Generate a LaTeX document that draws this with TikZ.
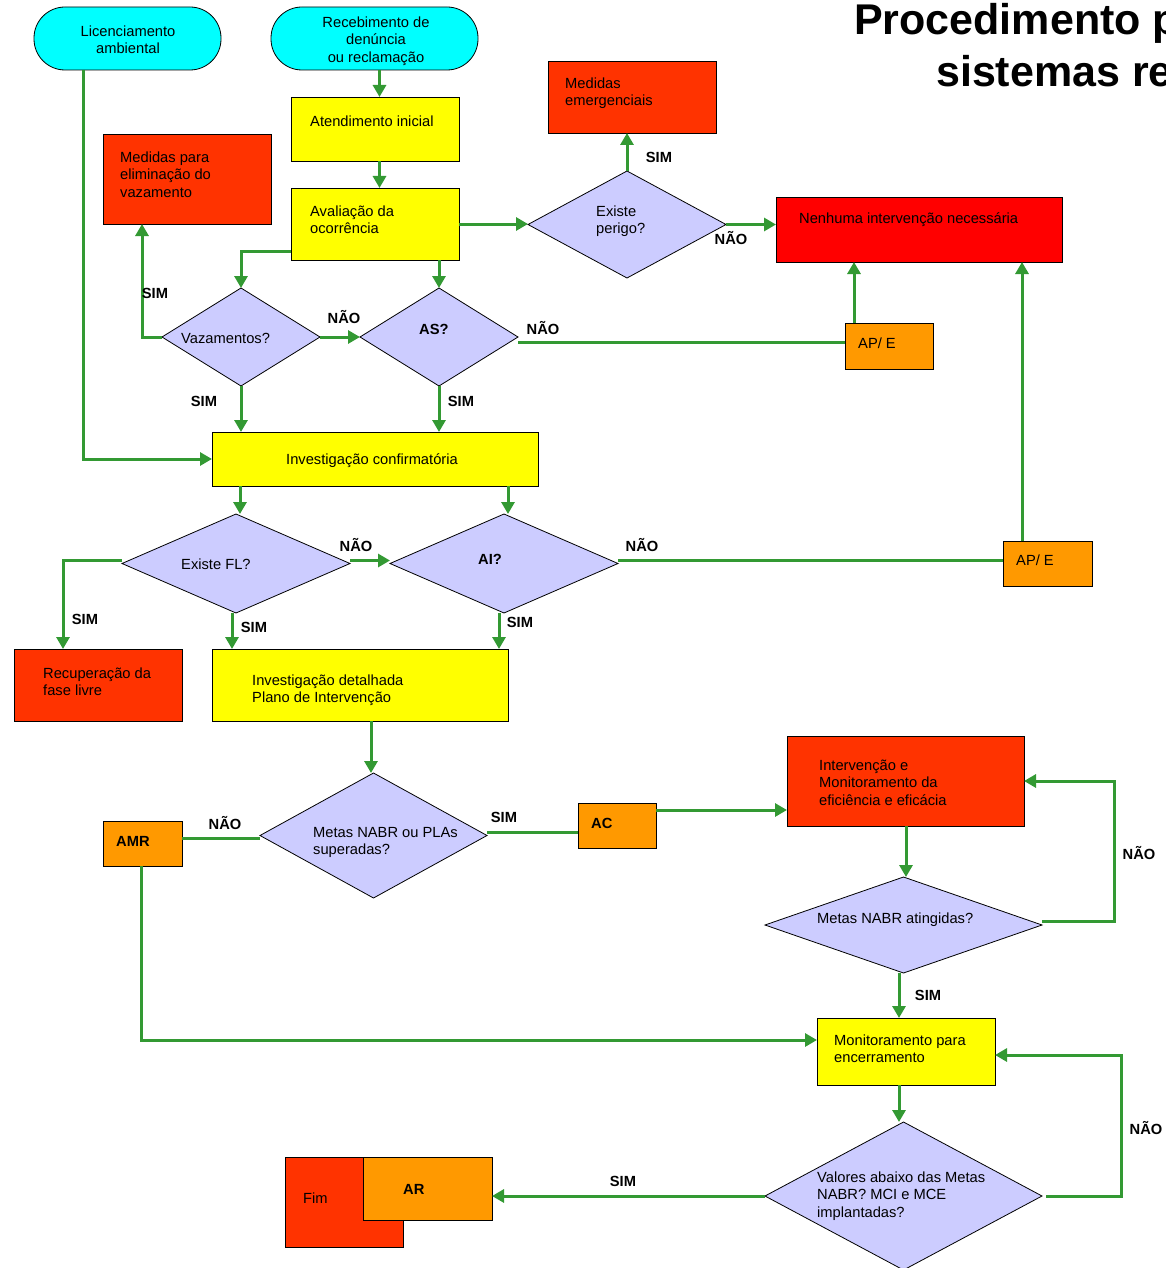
\documentclass[tikz,border=0pt]{standalone}
\usepackage{fontspec}
\setmainfont{Liberation Sans}
\usetikzlibrary{shapes.geometric,arrows.meta}
\definecolor{cyanfill}{HTML}{00FFFF}
\definecolor{yelfill}{HTML}{FFFF00}
\definecolor{redor}{HTML}{FF3300}
\definecolor{redfill}{HTML}{FF0000}
\definecolor{orfill}{HTML}{FF9900}
\definecolor{lavfill}{HTML}{CCCCFF}
\definecolor{grn}{HTML}{339933}
\newcommand\fstrut{\rule{0pt}{12pt}}
\begin{document}
\begin{tikzpicture}[x=1pt,y=-1pt,
  shp/.style={draw=black,line width=0.8pt,inner sep=0pt,outer sep=0pt},
  term/.style={shp,rectangle,rounded corners=31pt,fill=cyanfill},
  ybox/.style={shp,rectangle,fill=yelfill},
  rbox/.style={shp,rectangle,fill=redor},
  redbox/.style={shp,rectangle,fill=redfill},
  obox/.style={shp,rectangle,fill=orfill},
  dec/.style={shp,diamond,fill=lavfill},
  txt/.style={inner sep=0pt,anchor=north west,align=left,font=\fontsize{14.7}{17.5}\selectfont},
  ctxt/.style={txt,anchor=north,align=center},
  btxt/.style={txt,font=\fontsize{14.7}{17.5}\selectfont\bfseries},
  lab/.style={inner sep=0pt,anchor=center,font=\fontsize{14.7}{17.5}\selectfont\bfseries},
  ttl/.style={inner sep=0pt,anchor=base west,font=\fontsize{43}{47}\selectfont\bfseries},
  ln/.style={draw=grn,line width=3pt},
  arr/.style={ln,-{Triangle[width=13pt,length=12pt]}}
]
\useasboundingbox (0,0) rectangle (1165,1268);
\clip (0,0) rectangle (1165,1268);

% title
\node[ttl] (title1) at (854,35) {Procedimento p};
\node[ttl] (title2) at (936,87) {sistemas re};

% shapes
\node[term,minimum width=187,minimum height=63] (lic) at (127.5,38.5) {};
\node[term,minimum width=207,minimum height=63] (rec) at (374.5,38.5) {};
\node[ybox,minimum width=168,minimum height=64] (aten) at (375,129) {};
\node[ybox,minimum width=168,minimum height=72] (aval) at (375,224) {};
\node[rbox,minimum width=168,minimum height=90] (medel) at (187,179) {};
\node[rbox,minimum width=168,minimum height=72] (medem) at (632,97) {};
\node[redbox,minimum width=286,minimum height=65] (nenh) at (919,229.5) {};
\node[obox,minimum width=88,minimum height=46] (ape1) at (889,346) {};
\node[obox,minimum width=89,minimum height=45] (ape2) at (1047.5,563.5) {};
\node[ybox,minimum width=326,minimum height=54] (invc) at (375,459) {};
\node[rbox,minimum width=168,minimum height=72] (recup) at (98,685) {};
\node[ybox,minimum width=296,minimum height=72] (invd) at (360,685) {};
\node[obox,minimum width=79,minimum height=45] (amr) at (142.5,843.5) {};
\node[obox,minimum width=78,minimum height=45] (ac) at (617,825.5) {};
\node[rbox,minimum width=237,minimum height=90] (interv) at (905.5,781) {};
\node[ybox,minimum width=178,minimum height=67] (mon) at (906,1051.5) {};
\node[rbox,minimum width=118,minimum height=90] (fim) at (344,1202) {};
\node[obox,minimum width=129,minimum height=63] (ar) at (427.5,1188.5) {};

\node[dec,minimum width=198,minimum height=107] (perigo) at (627,224.5) {};
\node[dec,minimum width=158,minimum height=98] (vaz) at (241,337) {};
\node[dec,minimum width=158,minimum height=98] (as) at (439,337) {};
\node[dec,minimum width=228,minimum height=99] (fl) at (236,563.5) {};
\node[dec,minimum width=228,minimum height=99] (ai) at (504,563.5) {};
\node[dec,minimum width=227,minimum height=125] (msup) at (373.5,835.5) {};
\node[dec,minimum width=277,minimum height=96] (mat) at (903.5,925) {};
\node[dec,minimum width=277,minimum height=148] (val) at (903.5,1196) {};

% connectors
\draw[arr] ([xshift=-44.5pt]lic.south) |- (invc.west);
\draw[arr] ([xshift=4.5pt]aten.north |- rec.south) -- ([xshift=4.5pt]aten.north);
\draw[arr] ([xshift=4.5pt]aten.south) -- ([xshift=4.5pt]aval.north);
\draw[arr] (aval.east) -- (aval.east -| perigo.west);
\draw[arr] (perigo.north) -- (perigo.north |- medem.south);
\draw[arr] (perigo.east) -- (perigo.east -| nenh.west);
\draw[arr] ([yshift=-27pt]aval.west) -| (vaz.north);
\draw[arr] (as.north |- aval.south) -- (as.north);
\draw[arr] (vaz.west) -| ([xshift=-45pt]medel.south);
\draw[arr] (vaz.east) -- (as.west);
\draw[arr] (vaz.south) -- (vaz.south |- invc.north);
\draw[arr] (as.south) -- (as.south |- invc.north);
\draw[ln] ([yshift=-5pt]as.east) -- ([yshift=-5pt]as.east -| ape1.west);
\draw[arr] ([xshift=-35pt]ape1.north) -- ([xshift=-35pt]ape1.north |- nenh.south);
\draw[arr] ([xshift=-25.5pt]ape2.north) -- ([xshift=-25.5pt]ape2.north |- nenh.south);
\draw[arr] ([xshift=4pt]fl.north |- invc.south) -- ([xshift=4pt]fl.north);
\draw[arr] ([xshift=4pt]ai.north |- invc.south) -- ([xshift=4pt]ai.north);
\draw[arr] ([yshift=3pt]fl.west) -| ([xshift=-35pt]recup.north);
\draw[arr] ([yshift=3pt]fl.east) -- ([yshift=3pt]ai.west);
\draw[arr] ([xshift=-4pt]fl.south) -- ([xshift=-4pt]fl.south |- invd.north);
\draw[arr] ([xshift=-5pt]ai.south) -- ([xshift=-5pt]ai.south |- invd.north);
\draw[ln] ([yshift=3pt]ai.east) -- ([yshift=3pt]ai.east -| ape2.west);
\draw[arr] ([xshift=-2.5pt]msup.north |- invd.south) -- ([xshift=-2.5pt]msup.north);
\draw[ln] ([yshift=-3pt]msup.west) -- ([yshift=-3pt]msup.west -| amr.east);
\draw[ln] ([yshift=3pt]msup.east) -- ([yshift=3pt]msup.east -| ac.west);
\draw[arr] ([yshift=15.5pt]ac.east) -- ([yshift=15.5pt]ac.east -| interv.west);
\draw[arr] ([xshift=2.5pt]mat.north |- interv.south) -- ([xshift=2.5pt]mat.north);
\draw[arr] ([yshift=4pt]mat.east) -- ++(72,0) |- (interv.east);
\draw[arr] ([xshift=-4.5pt]mat.south) -- ([xshift=-4.5pt]mat.south |- mon.north);
\draw[arr] ([xshift=-1.5pt]amr.south) |- ([yshift=11.5pt]mon.west);
\draw[arr] ([xshift=-7pt]mon.south) -- ([xshift=-7pt]mon.south |- val.north);
\draw[arr] ([xshift=4pt]val.east) -- ++(75,0) |- ([yshift=-3.5pt]mon.east);
\draw[arr] (val.west) -- (val.west -| ar.east);

% texts
\node[ctxt] (t-lic) at (128,24) {\fstrut Licenciamento\\ambiental};
\node[ctxt] (t-rec) at (376,15) {\fstrut Recebimento de\\denúncia\\ou reclamação};
\node[txt] (t-aten) at (310,114) {\fstrut Atendimento inicial};
\node[txt] (t-aval) at (310,204) {\fstrut Avaliação da\\ocorrência};
\node[txt] (t-medel) at (120,150) {\fstrut Medidas para\\eliminação do\\vazamento};
\node[txt] (t-medem) at (565,76) {\fstrut Medidas\\emergenciais};
\node[txt] (t-perigo) at (596,204) {\fstrut Existe\\perigo?};
\node[txt] (t-nenh) at (799,211) {\fstrut Nenhuma intervenção necessária};
\node[txt] (t-vaz) at (181,331) {\fstrut Vazamentos?};
\node[btxt] (t-as) at (419,322) {\fstrut AS?};
\node[txt] (t-ape1) at (858,336) {\fstrut AP/ E};
\node[ctxt] (t-invc) at (372,452) {\fstrut Investigação confirmatória};
\node[txt] (t-fl) at (181,557) {\fstrut Existe FL?};
\node[btxt] (t-ai) at (478,552) {\fstrut AI?};
\node[txt] (t-ape2) at (1016,553) {\fstrut AP/ E};
\node[txt] (t-recup) at (43,666) {\fstrut Recuperação da\\fase livre};
\node[txt] (t-invd) at (252,673) {\fstrut Investigação detalhada\\Plano de Intervenção};
\node[btxt] (t-amr) at (116,834) {\fstrut AMR};
\node[txt] (t-msup) at (313,825) {\fstrut Metas NABR ou PLAs\\superadas?};
\node[btxt] (t-ac) at (591,816) {\fstrut AC};
\node[txt] (t-interv) at (819,758) {\fstrut Intervenção e\\Monitoramento da\\eficiência e eficácia};
\node[txt] (t-mat) at (817,911) {\fstrut Metas NABR atingidas?};
\node[txt] (t-mon) at (834,1033) {\fstrut Monitoramento para\\encerramento};
\node[txt] (t-val) at (817,1170) {\fstrut Valores abaixo das Metas\\NABR? MCI e MCE\\implantadas?};
\node[txt] (t-fim) at (303,1191) {\fstrut Fim};
\node[btxt] (t-ar) at (403,1182) {\fstrut AR};

% branch labels
\node[lab] (l1) at (659,157) {SIM};
\node[lab] (l2) at (731,238) {NÃO};
\node[lab] (l3) at (155,293) {SIM};
\node[lab] (l4) at (344,317) {NÃO};
\node[lab] (l5) at (204,401) {SIM};
\node[lab] (l6) at (461,401) {SIM};
\node[lab] (l7) at (543,328) {NÃO};
\node[lab] (l8) at (356,545) {NÃO};
\node[lab] (l9) at (642,545) {NÃO};
\node[lab] (l10) at (85,619) {SIM};
\node[lab] (l11) at (254,627) {SIM};
\node[lab] (l12) at (520,622) {SIM};
\node[lab] (l13) at (225,823) {NÃO};
\node[lab] (l14) at (504,817) {SIM};
\node[lab] (l15) at (1139,853) {NÃO};
\node[lab] (l16) at (928,995) {SIM};
\node[lab] (l17) at (1146,1128) {NÃO};
\node[lab] (l18) at (623,1181) {SIM};
\end{tikzpicture}
\end{document}
